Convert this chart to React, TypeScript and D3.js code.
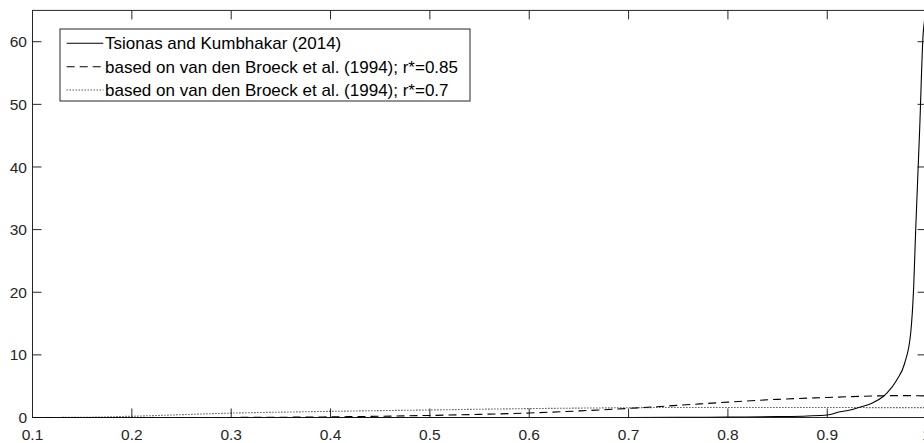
import React from "react";
import * as d3 from "d3";

// efficiency grid and densities
const tkX = [0.1, 0.5, 0.6, 0.7, 0.75, 0.8, 0.85, 0.88, 0.9, 0.913, 0.923, 0.93, 0.946, 0.956, 0.96, 0.97, 0.978, 0.984, 0.987, 0.989, 0.993, 0.9966, 1.0];
const tkY = [0, 0.002, 0.005, 0.01, 0.03, 0.06, 0.15, 0.25, 0.4, 0.93, 1.2, 1.52, 2.36, 3.32, 3.9, 6.0, 8.7, 13.5, 20.9, 29.9, 45.9, 61.4, 65];

const vdbX = [0.1, 0.3, 0.35, 0.4, 0.45, 0.5, 0.55, 0.6, 0.65, 0.7, 0.75, 0.8, 0.85, 0.9, 0.95, 0.97, 1.0];
const vdb85 = [0, 0.01, 0.04, 0.1, 0.2, 0.33, 0.5, 0.72, 1.05, 1.45, 1.95, 2.45, 2.9, 3.2, 3.45, 3.5, 3.45];

const vdb7X = [0.1, 0.15, 0.2, 0.25, 0.3, 0.35, 0.4, 0.45, 0.5, 0.55, 0.6, 0.65, 0.7, 0.75, 0.8, 0.85, 0.9, 0.95, 1.0];
const vdb7 = [0, 0.03, 0.2, 0.45, 0.7, 0.85, 0.98, 1.1, 1.2, 1.32, 1.42, 1.5, 1.56, 1.6, 1.6, 1.6, 1.6, 1.58, 1.57];

const xTicks = [0.1, 0.2, 0.3, 0.4, 0.5, 0.6, 0.7, 0.8, 0.9, 1];
const yTicks = [0, 10, 20, 30, 40, 50, 60];

const legendLabels = [
  "Tsionas and Kumbhakar (2014)",
  "based on van den Broeck et al. (1994); r*=0.85",
  "based on van den Broeck et al. (1994); r*=0.7",
];
const dashes = ["none", "8,5", "1,2"];

const W = 924;
const H = 443;
const axisColor = "#262626";
const font = "'Liberation Sans', Arial, Helvetica, sans-serif";

export default function App() {
  const x = d3.scaleLinear().domain([0.1, 1]).range([32.5, 926.6]);
  const y = d3.scaleLinear().domain([0, 65]).range([417.5, 10.4]);
  const [x0, x1] = x.range();
  const [y0, y1] = y.range();
  const tickLen = 9;

  const line = d3
    .line<[number, number]>()
    .x((d) => x(d[0]))
    .y((d) => y(d[1]))
    .curve(d3.curveMonotoneX);

  const series = [
    d3.zip(tkX, tkY) as [number, number][],
    d3.zip(vdbX, vdb85) as [number, number][],
    d3.zip(vdb7X, vdb7) as [number, number][],
  ];

  const legend = { left: 60, top: 29, bottom: 101, right: 470 };
  const rowY = [43.3, 66.7, 90];

  return (
    <svg
      width={W}
      height={H}
      style={{ position: "absolute", left: 0, top: 0, background: "#fff" }}
      fontFamily={font}
    >
      <defs>
        <clipPath id="plot">
          <rect x={x0} y={y1} width={x1 - x0} height={y0 - y1} />
        </clipPath>
      </defs>

      {/* axes box */}
      <rect x={x0} y={y1} width={x1 - x0} height={y0 - y1} fill="none" stroke={axisColor} strokeWidth={1} />

      {xTicks.map((t) => (
        <g key={"x" + t}>
          <line x1={x(t)} x2={x(t)} y1={y0} y2={y0 - tickLen} stroke={axisColor} />
          <line x1={x(t)} x2={x(t)} y1={y1} y2={y1 + tickLen} stroke={axisColor} />
          <text x={x(t)} y={439.5} fontSize={15.5} textAnchor="middle" fill={axisColor}>
            {t}
          </text>
        </g>
      ))}

      {yTicks.map((t) => (
        <g key={"y" + t}>
          <line x1={x0} x2={x0 + tickLen} y1={y(t)} y2={y(t)} stroke={axisColor} />
          <line x1={x1} x2={x1 - tickLen} y1={y(t)} y2={y(t)} stroke={axisColor} />
          <text x={27} y={y(t)} dy="0.36em" fontSize={15.5} textAnchor="end" fill={axisColor}>
            {t}
          </text>
        </g>
      ))}

      <g clipPath="url(#plot)">
        {series.map((s, i) => (
          <path
            key={i}
            d={line(s) ?? ""}
            fill="none"
            stroke="#000"
            strokeWidth={1.1}
            strokeDasharray={dashes[i]}
          />
        ))}
      </g>

      {/* legend */}
      <rect
        x={legend.left}
        y={legend.top}
        width={legend.right - legend.left}
        height={legend.bottom - legend.top}
        fill="#fff"
        stroke={axisColor}
        strokeWidth={1}
      />
      {legendLabels.map((lab, i) => (
        <g key={lab}>
          <line
            x1={66.7}
            x2={103.3}
            y1={rowY[i]}
            y2={rowY[i]}
            stroke="#000"
            strokeWidth={1.1}
            strokeDasharray={dashes[i]}
          />
          <text x={105} y={rowY[i]} dy="0.36em" fontSize={17} fill="#000">
            {lab}
          </text>
        </g>
      ))}
    </svg>
  );
}
